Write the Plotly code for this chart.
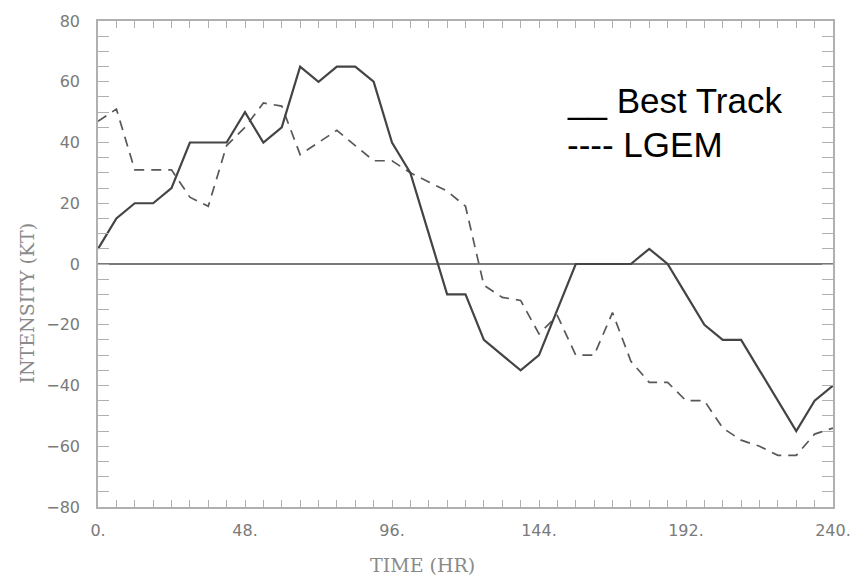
import plotly.graph_objects as go

hours = [0, 6, 12, 18, 24, 30, 36, 42, 48, 54, 60, 66, 72, 78, 84, 90, 96, 102, 108, 114,
         120, 126, 132, 138, 144, 150, 156, 162, 168, 174, 180, 186, 192, 198, 204, 210,
         216, 222, 228, 234, 240]

best_track = [5, 15, 20, 20, 25, 40, 40, 40, 50, 40, 45, 65, 60, 65, 65, 60, 40, 30, 10, -10,
              -10, -25, -30, -35, -30, -15, 0, 0, 0, 0, 5, 0, -10, -20, -25, -25,
              -35, -45, -55, -45, -40]

lgem = [47, 51, 31, 31, 31, 22, 19, 39, 45, 53, 52, 36, 40, 44, 39, 34, 34, 30, 27, 24,
        19, -7, -11, -12, -23, -17, -30, -30, -16, -32, -39, -39, -45, -45, -54, -58,
        -60, -63, -63, -56, -54]

x_tick_vals = list(range(0, 241, 6))
x_label_vals = [0, 48, 96, 144, 192, 240]
x_tick_text = [f"{v}." if v in x_label_vals else "" for v in x_tick_vals]

y_tick_vals = list(range(-80, 81, 5))
y_label_vals = [-80, -60, -40, -20, 0, 20, 40, 60, 80]
y_tick_text = [(str(v).replace("-", "\u2212") if v in y_label_vals else "") for v in y_tick_vals]

legend_lines = ["__ Best Track", "---- LGEM"]

fig = go.Figure()
fig.add_trace(go.Scatter(x=hours, y=lgem, mode="lines", name="LGEM",
                         line=dict(color="#585858", width=1.7, dash="10px,7px")))
fig.add_trace(go.Scatter(x=hours, y=best_track, mode="lines", name="Best Track",
                         line=dict(color="#444444", width=2.2)))

axis_common = dict(
    showline=True, linecolor="#b0b0b0", linewidth=1.5, mirror="allticks",
    ticks="inside", tickcolor="#b0b0b0", tickwidth=1.3,
    showgrid=False,
    tickfont=dict(family="DejaVu Sans", size=16, color="#7a7a7a"),
)

fig.update_layout(
    width=863, height=576, autosize=False,
    margin=dict(l=98, r=22, t=14, b=69),
    paper_bgcolor="white", plot_bgcolor="white",
    showlegend=False,
    xaxis=dict(range=[0, 240], tickmode="array", tickvals=x_tick_vals, ticktext=x_tick_text,
               ticklen=7, zeroline=False, ticklabelstandoff=8, **axis_common),
    yaxis=dict(range=[-80, 80], tickmode="array", tickvals=y_tick_vals, ticktext=y_tick_text,
               ticklen=11, zeroline=True, zerolinecolor="#7a7a7a", zerolinewidth=1.5,
               ticklabelstandoff=13, **axis_common),
)

fig.add_annotation(text="INTENSITY (KT)", xref="paper", yref="paper", x=-0.097, y=0.42,
                   textangle=-90, showarrow=False, xanchor="center", yanchor="middle",
                   font=dict(family="DejaVu Serif", size=19, color="#8a8a8a"))
fig.add_annotation(text="TIME (HR)", xref="paper", yref="paper", x=0.4415, y=-0.12,
                   showarrow=False, xanchor="center", yanchor="middle",
                   font=dict(family="DejaVu Serif", size=19, color="#8a8a8a"))

for i, t in enumerate(legend_lines):
    fig.add_annotation(text=t, xref="paper", yref="paper", x=0.635, y=0.837 - i * 0.092,
                       showarrow=False, xanchor="left", yanchor="middle",
                       font=dict(family="Liberation Sans", size=35, color="black"))

fig.write_html("out.html")
